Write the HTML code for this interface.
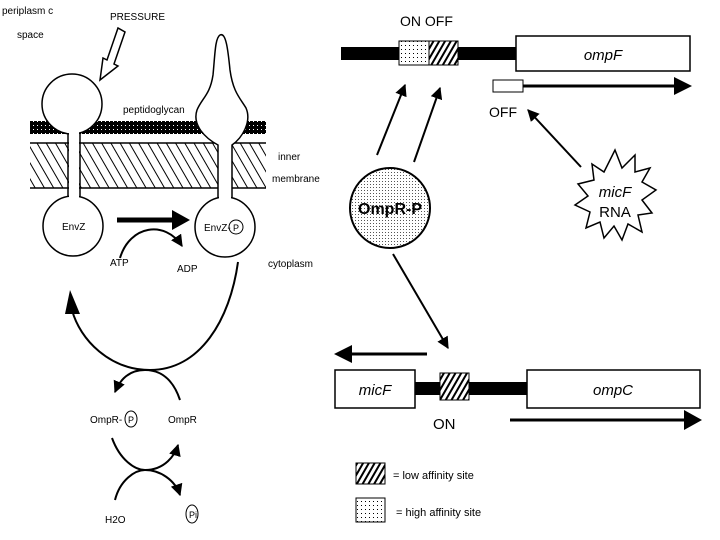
<!DOCTYPE html>
<html><head><meta charset="utf-8"><style>
html,body{margin:0;padding:0;background:#fff}
svg{display:block}
text{font-family:"Liberation Sans",sans-serif;fill:#000}
</style></head><body>
<svg width="720" height="540" viewBox="0 0 720 540" xmlns="http://www.w3.org/2000/svg">
<defs>
<pattern id="dots" width="4" height="4" patternUnits="userSpaceOnUse"><rect width="4" height="4" fill="#fff"/><rect x="1" y="1" width="1" height="1" fill="#000"/></pattern>
<pattern id="dots2" width="3" height="3" patternUnits="userSpaceOnUse"><rect width="3" height="3" fill="#fff"/><rect x="1" y="1" width="1" height="1" fill="#555"/></pattern>
<pattern id="hatch" width="5" height="5" patternUnits="userSpaceOnUse" patternTransform="rotate(30)"><rect width="5" height="5" fill="#fff"/><rect width="2" height="5" fill="#000"/></pattern>
<pattern id="hatchL" width="8" height="8" patternUnits="userSpaceOnUse" patternTransform="rotate(-30)"><rect width="8" height="8" fill="#fff"/><rect width="1" height="8" fill="#000"/></pattern>
<pattern id="pg" width="4" height="4" patternUnits="userSpaceOnUse"><rect width="4" height="4" fill="#000"/><rect x="1" y="1" width="1" height="1" fill="#fff"/></pattern>
<marker id="ah" viewBox="0 0 10 10" refX="9" refY="5" markerWidth="6" markerHeight="6" orient="auto"><path d="M0,0L10,5L0,10z" fill="#000"/></marker>
</defs>

<text x="2" y="14" font-size="10">periplasm c</text>
<text x="17" y="38" font-size="10">space</text>
<text x="110" y="20" font-size="10">PRESSURE</text>
<path d="M125,32 L114,64 L118,66 L100,80 L103,58 L107,60 L118,28z" fill="#fff" stroke="#000" stroke-width="1.5"/>

<rect x="30" y="121" width="236" height="13" fill="url(#pg)"/>
<rect x="30" y="143" width="236" height="45" fill="url(#hatchL)"/>
<line x1="30" y1="143" x2="266" y2="143" stroke="#000" stroke-width="1.5"/>
<line x1="30" y1="188" x2="266" y2="188" stroke="#000" stroke-width="1.5"/>
<text x="123" y="113" font-size="10">peptidoglycan</text>
<text x="278" y="160" font-size="10">inner</text>
<text x="272" y="182" font-size="10">membrane</text>

<line x1="68" y1="128" x2="68" y2="200" stroke="#000" stroke-width="1.5"/>
<line x1="80" y1="128" x2="80" y2="200" stroke="#000" stroke-width="1.5"/>
<circle cx="72" cy="104" r="30" fill="#fff" stroke="#000" stroke-width="1.5"/>
<circle cx="73" cy="226" r="30" fill="#fff" stroke="#000" stroke-width="1.5"/>
<rect x="69" y="126" width="10" height="80" fill="#fff"/>
<text x="62" y="230" font-size="10">EnvZ</text>

<path d="M218,200 L218,145 C205,138 192,125 197,110 C202,98 210,95 213,75 C215,55 215,38 220,35 C226,32 228,50 230,70 C233,92 240,98 246,108 C252,122 242,138 232,145 L232,200" fill="#fff" stroke="#000" stroke-width="1.5"/>
<circle cx="225" cy="227" r="30" fill="#fff" stroke="#000" stroke-width="1.5"/>
<rect x="219" y="145" width="12" height="61" fill="#fff"/>
<text x="204" y="231" font-size="10">EnvZ-</text>
<circle cx="236" cy="227" r="7" fill="none" stroke="#000"/>
<text x="233" y="231" font-size="9">P</text>

<line x1="117" y1="220" x2="176" y2="220" stroke="#000" stroke-width="5"/>
<path d="M172,210 L190,220 L172,230z"/>
<path d="M120,258 C130,225 165,220 182,246" fill="none" stroke="#000" stroke-width="2" marker-end="url(#ah)"/>
<text x="110" y="266" font-size="10">ATP</text>
<text x="177" y="272" font-size="10">ADP</text>
<text x="268" y="267" font-size="10">cytoplasm</text>

<path d="M238,262 C230,320 200,370 150,370 C110,370 80,340 72,310" fill="none" stroke="#000" stroke-width="2"/>
<path d="M65,314 L70,290 L80,314z"/>

<path d="M180,400 C175,385 165,370 145,370 C125,370 118,385 115,392" fill="none" stroke="#000" stroke-width="2" marker-end="url(#ah)"/>
<text x="90" y="423" font-size="10">OmpR-</text>
<ellipse cx="131" cy="419" rx="6" ry="8" fill="none" stroke="#000"/>
<text x="128" y="423" font-size="9">P</text>
<text x="168" y="423" font-size="10">OmpR</text>
<path d="M112,438 C120,460 135,470 145,470 C165,470 175,455 178,445" fill="none" stroke="#000" stroke-width="2" marker-end="url(#ah)"/>
<path d="M115,500 C120,480 135,470 145,470 C160,470 175,480 180,495" fill="none" stroke="#000" stroke-width="2" marker-end="url(#ah)"/>
<text x="105" y="523" font-size="10">H2O</text>
<ellipse cx="192" cy="514" rx="6" ry="9" fill="none" stroke="#000"/>
<text x="189" y="518" font-size="9">Pi</text>

<text x="400" y="26" font-size="14">ON OFF</text>
<rect x="341" y="47" width="176" height="13" fill="#000"/>
<rect x="399" y="41" width="30" height="24" fill="url(#dots)" stroke="#000"/>
<rect x="429" y="41" width="29" height="24" fill="url(#hatch)" stroke="#000"/>
<rect x="516" y="36" width="174" height="35" fill="#fff" stroke="#000" stroke-width="1.5"/>
<text x="603" y="60" font-size="15" font-style="italic" text-anchor="middle">ompF</text>
<rect x="493" y="80" width="30" height="12" fill="#fff" stroke="#000"/>
<line x1="523" y1="86" x2="678" y2="86" stroke="#000" stroke-width="3"/>
<path d="M674,77 L692,86 L674,95z"/>
<text x="489" y="117" font-size="14">OFF</text>

<line x1="377" y1="155" x2="405" y2="85" stroke="#000" stroke-width="2" marker-end="url(#ah)"/>
<line x1="414" y1="162" x2="440" y2="88" stroke="#000" stroke-width="2" marker-end="url(#ah)"/>
<circle cx="390" cy="208" r="40" fill="url(#dots2)" stroke="#000" stroke-width="2"/>
<text x="390" y="214" font-size="16" font-weight="bold" text-anchor="middle">OmpR-P</text>

<polygon points="615,150 622,168 635,155 635,172 650,168 642,182 656,190 642,200 652,213 638,215 642,232 628,224 622,240 614,226 604,238 600,222 586,228 590,212 575,205 588,196 578,184 594,180 592,164 604,172" fill="#fff" stroke="#000" stroke-width="1.5"/>
<text x="615" y="197" font-size="15" font-style="italic" text-anchor="middle">micF</text>
<text x="615" y="217" font-size="15" text-anchor="middle">RNA</text>
<line x1="581" y1="167" x2="528" y2="110" stroke="#000" stroke-width="2" marker-end="url(#ah)"/>
<line x1="393" y1="254" x2="448" y2="348" stroke="#000" stroke-width="2" marker-end="url(#ah)"/>

<line x1="427" y1="354" x2="350" y2="354" stroke="#000" stroke-width="3"/>
<path d="M352,345 L334,354 L352,363z"/>
<rect x="415" y="382" width="112" height="13" fill="#000"/>
<rect x="335" y="370" width="80" height="38" fill="#fff" stroke="#000" stroke-width="1.5"/>
<text x="375" y="395" font-size="15" font-style="italic" text-anchor="middle">micF</text>
<rect x="440" y="373" width="29" height="27" fill="url(#hatch)" stroke="#000"/>
<rect x="527" y="370" width="173" height="38" fill="#fff" stroke="#000" stroke-width="1.5"/>
<text x="613" y="395" font-size="15" font-style="italic" text-anchor="middle">ompC</text>
<text x="433" y="429" font-size="15">ON</text>
<line x1="510" y1="420" x2="686" y2="420" stroke="#000" stroke-width="3"/>
<path d="M684,410 L702,420 L684,430z"/>

<rect x="356" y="463" width="29" height="21" fill="url(#hatch)" stroke="#000"/>
<text x="393" y="479" font-size="11">= low affinity site</text>
<rect x="356" y="498" width="29" height="24" fill="url(#dots)" stroke="#000"/>
<text x="396" y="516" font-size="11">= high affinity site</text>
</svg>
</body></html>
